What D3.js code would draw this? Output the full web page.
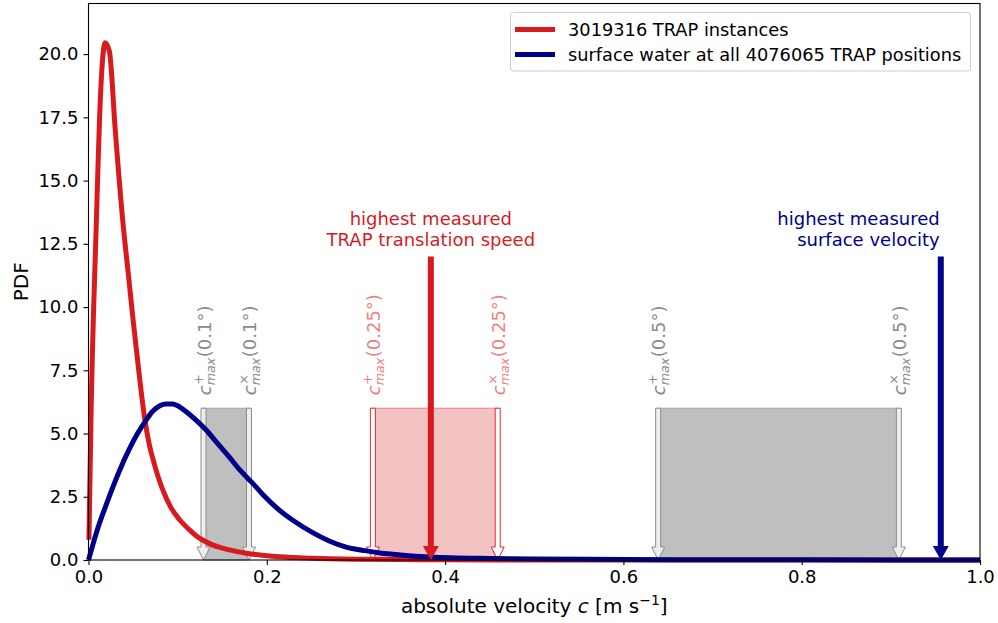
<!DOCTYPE html>
<html>
<head>
<meta charset="utf-8">
<script src="https://cdn.jsdelivr.net/npm/d3@7"></script>
<style>
  body { margin: 0; background: #fff; }
  svg text { font-family: "DejaVu Sans", sans-serif; }
</style>
</head>
<body>
<div id="chart"></div>
<script>
// PDF of TRAP translation speeds
const redC   = [0.0005, 0.003, 0.0085, 0.0135, 0.0187, 0.0235, 0.030, 0.039, 0.045, 0.050, 0.056, 0.063, 0.068, 0.073, 0.078, 0.083, 0.092, 0.102, 0.113, 0.121, 0.130, 0.139, 0.158, 0.177, 0.200, 0.214, 0.25, 0.30, 0.35, 0.40, 0.50, 0.60, 0.80, 1.00];
const redPdf = [0.8, 6.0, 13.0, 18.4, 20.45, 20.1, 17.0, 13.2, 11.2, 9.5, 7.6, 5.6, 4.6, 3.9, 3.3, 2.8, 2.1, 1.6, 1.2, 0.95, 0.75, 0.6, 0.4, 0.27, 0.17, 0.13, 0.07, 0.03, 0.015, 0.007, 0.002, 0.001, 0, 0];

// PDF of surface water velocity at TRAP positions
const blueC   = [0.0, 0.005, 0.012, 0.020, 0.027, 0.035, 0.046, 0.055, 0.065, 0.072, 0.080, 0.087, 0.094, 0.100, 0.110, 0.120, 0.132, 0.145, 0.158, 0.170, 0.184, 0.198, 0.214, 0.230, 0.252, 0.270, 0.289, 0.310, 0.327, 0.350, 0.383, 0.45, 0.50, 0.60, 0.70, 0.80, 1.00];
const bluePdf = [0.0, 0.62, 1.42, 2.2, 2.85, 3.55, 4.4, 5.0, 5.55, 5.88, 6.1, 6.17, 6.17, 6.1, 5.85, 5.55, 5.14, 4.6, 4.07, 3.55, 3.04, 2.5, 1.97, 1.55, 1.07, 0.75, 0.51, 0.37, 0.28, 0.2, 0.12, 0.06, 0.04, 0.02, 0.01, 0.005, 0.0];

const seriesNames = ["3019316 TRAP instances", "surface water at all 4076065 TRAP positions"];

// c_max ranges for grid resolutions (c+ , cx)
const boxRes   = ["0.1", "0.25", "0.5"];
const boxPlus  = [0.129, 0.319, 0.639];
const boxCross = [0.180, 0.459, 0.909];
const boxTop = 6.0;

// highest measured speeds
const maxTrap = 0.384;
const maxSurface = 0.956;
const maxArrowTop = 12.0;

const xTicks = [0, 0.2, 0.4, 0.6, 0.8, 1.0];
const yTicks = [0, 2.5, 5, 7.5, 10, 12.5, 15, 17.5, 20];

const RED = "#d81a1f", BLUE = "#00008b";

const W = 998, H = 623;
const margin = { left: 88.5, right: 18, top: 3.5, bottom: 63 };

const svg = d3.select("#chart").append("svg")
    .attr("width", W).attr("height", H);

const x = d3.scaleLinear().domain([0, 1]).range([margin.left, W - margin.right]);
const y = d3.scaleLinear().domain([0, 22]).range([H - margin.bottom, margin.top]);

const plot = svg.append("g");

// arrow pointing down from y0 to y1 (data units), head sizes in px
function arrowPath(cx, y0, y1, shaftW, headW, headL) {
    const px = x(cx), top = y(y0), bot = y(y1), hb = bot - headL;
    return `M${px - shaftW / 2},${top} L${px + shaftW / 2},${top} L${px + shaftW / 2},${hb}
            L${px + headW / 2},${hb} L${px},${bot} L${px - headW / 2},${hb}
            L${px - shaftW / 2},${hb} Z`;
}

const boxStyle = [
    { fill: "#bfbfbf", edge: "#a6a6a6", arrowEdge: "#8c8c8c", arrowFill: "#eeeeee", text: "#8a8a8a" },
    { fill: "#f3c3c3", edge: "#f08080", arrowEdge: "#e02a2f", arrowFill: "#ffffff", text: "#f08080" },
    { fill: "#bfbfbf", edge: "#a6a6a6", arrowEdge: "#8c8c8c", arrowFill: "#eeeeee", text: "#8a8a8a" }
];

// boxes
boxRes.forEach((r, i) => {
    plot.append("rect")
        .attr("x", x(boxPlus[i])).attr("y", y(boxTop))
        .attr("width", x(boxCross[i]) - x(boxPlus[i]))
        .attr("height", y(0) - y(boxTop))
        .attr("fill", boxStyle[i].fill)
        .attr("stroke", boxStyle[i].edge).attr("stroke-width", 1);
});

// hollow arrows + rotated labels
function cmaxLabel(cx, sym, res, color) {
    const g = plot.append("g")
        .attr("transform", `translate(${x(cx) + 7},${y(boxTop) - 13}) rotate(-90)`)
        .attr("fill", color);
    g.append("text").attr("x", 0).attr("y", 0)
        .attr("font-size", 18).attr("font-style", "italic").text("c");
    g.append("text").attr("x", 10.5).attr("y", -8)
        .attr("font-size", 12.6).text(sym);
    g.append("text").attr("x", 10).attr("y", 4)
        .attr("font-size", 12.6).attr("font-style", "italic").text("max");
    g.append("text").attr("x", 38).attr("y", 0)
        .attr("font-size", 18).text(`(${res}°)`);
}

boxRes.forEach((r, i) => {
    [boxPlus[i], boxCross[i]].forEach(cx => {
        plot.append("path")
            .attr("d", arrowPath(cx, boxTop, 0, 5, 13, 13))
            .attr("fill", boxStyle[i].arrowFill)
            .attr("stroke", boxStyle[i].arrowEdge).attr("stroke-width", 1);
    });
    cmaxLabel(boxPlus[i], "+", r, boxStyle[i].text);
    cmaxLabel(boxCross[i], "×", r, boxStyle[i].text);
});

// curves
const line = d3.line().x(d => x(d[0])).y(d => y(d[1])).curve(d3.curveMonotoneX);
plot.append("path")
    .datum(d3.zip(redC, redPdf))
    .attr("d", line).attr("fill", "none")
    .attr("stroke", RED).attr("stroke-width", 5).attr("stroke-linejoin", "round");
plot.append("path")
    .datum(d3.zip(blueC, bluePdf))
    .attr("d", line).attr("fill", "none")
    .attr("stroke", BLUE).attr("stroke-width", 5).attr("stroke-linejoin", "round");

// highest measured arrows
plot.append("path").attr("d", arrowPath(maxTrap, maxArrowTop, 0, 6, 16, 14)).attr("fill", RED);
plot.append("path").attr("d", arrowPath(maxSurface, maxArrowTop, 0, 6, 16, 14)).attr("fill", BLUE);

const t1 = plot.append("text").attr("fill", RED).attr("font-size", 18).attr("text-anchor", "middle");
t1.append("tspan").attr("x", x(maxTrap)).attr("y", 225).text("highest measured");
t1.append("tspan").attr("x", x(maxTrap)).attr("y", 246).text("TRAP translation speed");
const t2 = plot.append("text").attr("fill", BLUE).attr("font-size", 18).attr("text-anchor", "end");
t2.append("tspan").attr("x", x(maxSurface) - 1).attr("y", 225).text("highest measured");
t2.append("tspan").attr("x", x(maxSurface) - 1).attr("y", 246).text("surface velocity");

// axes
const xAxis = svg.append("g")
    .attr("transform", `translate(0,${y(0)})`)
    .call(d3.axisBottom(x).tickValues(xTicks).tickFormat(d3.format(".1f")).tickSize(5).tickPadding(5));
const yAxis = svg.append("g")
    .attr("transform", `translate(${x(0)},0)`)
    .call(d3.axisLeft(y).tickValues(yTicks).tickFormat(d3.format(".1f")).tickSize(5).tickPadding(5));
[xAxis, yAxis].forEach(a => {
    a.select(".domain").remove();
    a.selectAll("text").attr("font-size", 18).attr("fill", "#000");
    a.selectAll("line").attr("stroke", "#000").attr("stroke-width", 1.1);
});

// frame
svg.append("rect")
    .attr("x", x(0)).attr("y", y(22))
    .attr("width", x(1) - x(0)).attr("height", y(0) - y(22))
    .attr("fill", "none").attr("stroke", "#000").attr("stroke-width", 1.1);

// axis labels
const xl = svg.append("text").attr("x", (x(0) + x(1)) / 2).attr("y", 613)
    .attr("font-size", 20).attr("text-anchor", "middle");
xl.append("tspan").text("absolute velocity ");
xl.append("tspan").attr("font-style", "italic").text("c");
xl.append("tspan").text(" [m s");
xl.append("tspan").attr("font-size", 14).attr("dy", -8).text("−1");
xl.append("tspan").attr("dy", 8).text("]");

svg.append("text")
    .attr("transform", `translate(27.5,${(y(0) + y(22)) / 2}) rotate(-90)`)
    .attr("font-size", 20).attr("text-anchor", "middle").text("PDF");

// legend
const leg = svg.append("g");
leg.append("rect")
    .attr("x", 510.5).attr("y", 12.5).attr("width", 460).attr("height", 58.5)
    .attr("rx", 3).attr("fill", "#fff").attr("fill-opacity", 0.8)
    .attr("stroke", "#cccccc").attr("stroke-width", 1);
[RED, BLUE].forEach((c, i) => {
    const ly = 29.5 + i * 25;
    leg.append("line").attr("x1", 515).attr("x2", 555).attr("y1", ly).attr("y2", ly)
        .attr("stroke", c).attr("stroke-width", 5);
    leg.append("text").attr("x", 568).attr("y", ly + 6.3)
        .attr("font-size", 17.8).text(seriesNames[i]);
});
</script>
</body>
</html>
